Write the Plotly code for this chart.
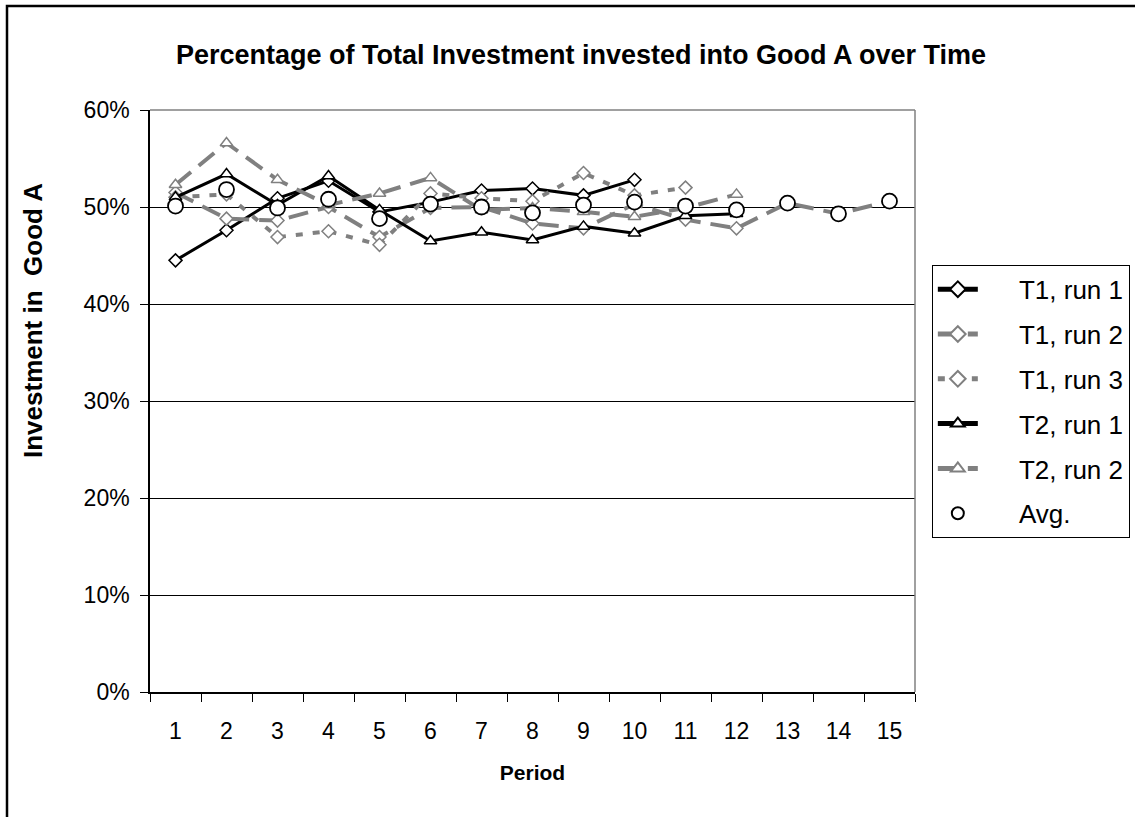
import plotly.graph_objects as go

periods = list(range(1, 16))

t1_run1 = [0.445, 0.476, 0.509, 0.527, 0.495, 0.505, 0.517, 0.519, 0.512, 0.528]
t1_run2 = [0.515, 0.488, 0.486, 0.500, 0.469, 0.499, 0.500, 0.483, 0.478, 0.503,
           0.487, 0.478, 0.504, 0.493, 0.506]
t1_run3 = [0.510, 0.513, 0.469, 0.475, 0.461, 0.514, 0.509, 0.506, 0.535, 0.512, 0.520]
t2_run1 = [0.510, 0.534, 0.502, 0.532, 0.497, 0.465, 0.474, 0.466, 0.480, 0.473,
           0.491, 0.493]
t2_run2 = [0.523, 0.566, 0.528, 0.502, 0.514, 0.530, 0.497, 0.499, 0.495, 0.490,
           0.499, 0.513]
avg = [0.501, 0.518, 0.499, 0.508, 0.488, 0.503, 0.500, 0.494, 0.502, 0.505,
       0.501, 0.497, 0.504, 0.493, 0.506]

GRAY = "#808080"
FONT = "Liberation Sans, Arial, sans-serif"
PAD = "\u00a0" * 5  # gap between legend sample and label

fig = go.Figure()


def add_series(name, values, color, dash, symbol, msize, lw):
    fig.add_trace(go.Scatter(
        x=periods[:len(values)], y=values, name=PAD + name, mode="lines+markers",
        legendgroup=name,
        line=dict(color=color, width=lw, dash=dash),
        marker=dict(symbol=symbol, size=msize, color="white",
                    line=dict(color=color, width=1.5)),
    ))


add_series("T1, run 1", t1_run1, "black", "solid", "diamond", 10, 3)
add_series("T1, run 2", t1_run2, GRAY, "20px,10px", "diamond", 10, 4)
add_series("T1, run 3", t1_run3, GRAY, "7px,10px", "diamond", 10, 4)
add_series("T2, run 1", t2_run1, "black", "solid", "triangle-up", 11, 3)
add_series("T2, run 2", t2_run2, GRAY, "20px,10px", "triangle-up", 11, 4)

fig.add_trace(go.Scatter(
    x=periods, y=avg, name=PAD + "Avg.", mode="markers", legendgroup="Avg.",
    marker=dict(symbol="circle", size=15, color="white",
                line=dict(color="black", width=1.8)),
))

fig.update_layout(
    width=1135, height=817,
    margin=dict(l=150, r=220, t=110, b=125, autoexpand=False),
    paper_bgcolor="white", plot_bgcolor="white",
    font=dict(family=FONT, color="black", size=23),
    title=dict(text="<b>Percentage of Total Investment invested into Good A over Time</b>",
               x=581 / 1135, xanchor="center", xref="container",
               y=1 - 55 / 817, yanchor="middle", yref="container",
               font=dict(size=27, family=FONT)),
    showlegend=True,
    legend=dict(x=1.022, xanchor="left", y=0.734, yanchor="top",
                bordercolor="black", borderwidth=1, bgcolor="white",
                font=dict(size=26, family=FONT), tracegroupgap=8,
                itemsizing="constant", itemwidth=40),
)

fig.update_xaxes(
    range=[0.5, 15.5], tickmode="array", tickvals=periods,
    ticktext=[str(p) for p in periods], ticks="", showgrid=False,
    showline=True, linecolor="black", linewidth=1.5, zeroline=False,
    ticklabelstandoff=18,
    minor=dict(tickmode="linear", tick0=0.5, dtick=1, ticks="outside",
               ticklen=8, tickcolor="black", tickwidth=1, showgrid=False),
    title=dict(text="<b>Period</b>", font=dict(size=21, family=FONT), standoff=22),
)

fig.update_yaxes(
    range=[0, 0.6], tickmode="linear", tick0=0, dtick=0.1, tickformat=".0%",
    ticks="outside", ticklen=8, tickcolor="black", tickwidth=1,
    showgrid=True, gridcolor="black", gridwidth=1,
    showline=True, linecolor="black", linewidth=1.5, zeroline=False,
    ticklabelstandoff=6,
)

# vertical axis title, set beside the upper half of the plot
fig.add_annotation(text="<b>Investment in\u00a0 Good A</b>", textangle=-90,
                   xref="paper", yref="paper", x=(33 - 150) / 765,
                   y=(692 - 320) / 582, xanchor="center", yanchor="middle",
                   showarrow=False, font=dict(size=26, family=FONT))

# plot-area border on the top and right edges, and the outer chart frame
fig.add_shape(type="line", xref="paper", yref="paper", x0=0, x1=1, y0=1, y1=1,
              line=dict(color=GRAY, width=1.5))
fig.add_shape(type="line", xref="paper", yref="paper", x0=1, x1=1, y0=0, y1=1,
              line=dict(color=GRAY, width=1.5))
fig.add_shape(type="rect", xref="paper", yref="paper",
              x0=-143 / 765, x1=1.32, y0=(692 - 6) / 582, y1=-0.3,
              line=dict(color="black", width=2.5))

fig.write_html("out.html")
